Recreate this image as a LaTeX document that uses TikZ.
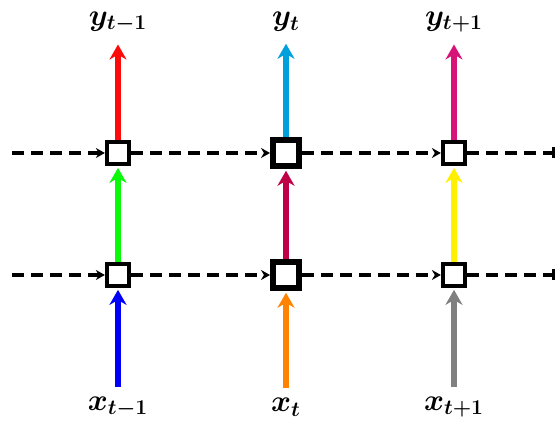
\documentclass[tikz,border=0pt]{standalone}
\usepackage{amsmath}
\usepackage{xcolor}
\usetikzlibrary{arrows.meta,positioning}
\definecolor{topred}{RGB}{255, 10, 10}
\definecolor{topcyan}{RGB}{0, 160, 220}
\definecolor{topmagenta}{RGB}{215, 20, 120}
\definecolor{midgreen}{RGB}{10, 250, 10}
\definecolor{midcrimson}{RGB}{190, 0, 70}
\definecolor{midyellow}{RGB}{255, 240, 0}
\definecolor{lowblue}{RGB}{0, 0, 250}
\definecolor{loworange}{RGB}{255, 130, 0}
\definecolor{lowgray}{RGB}{128, 128, 128}

\begin{document}
\begin{tikzpicture}[
    every node/.style={align=center},
    cell/.style={rectangle, draw=black, fill=white, line width=2.4pt, minimum width=0.44cm, minimum height=0.44cm, inner sep=0pt},
    bigcell/.style={cell, line width=3.4pt, minimum width=0.52cm, minimum height=0.52cm},
    lbl/.style={font=\LARGE\boldmath, inner sep=1pt},
    flow/.style={line width=3.6pt, -{Stealth[length=0.3cm, width=0.34cm]}, shorten >=1pt},
    recur/.style={line width=1.8pt, dash pattern=on 0.24cm off 0.14cm, -{Stealth[length=0.18cm, width=0.2cm]}}
]
\useasboundingbox (0,0) rectangle (11.14,8.44);

% Hidden cells
\node[cell] (l1) at (2.36,2.94) {};
\node[bigcell] (l2) at (5.72,2.94) {};
\node[cell] (l3) at (9.08,2.94) {};
\node[cell] (u1) at (2.36,5.38) {};
\node[bigcell] (u2) at (5.72,5.38) {};
\node[cell] (u3) at (9.08,5.38) {};

% Inputs and outputs
\node[lbl] (x1) at (2.36,0.3) {$x_{t-1}$};
\node[lbl] (x2) at (5.72,0.3) {$x_t$};
\node[lbl] (x3) at (9.08,0.3) {$x_{t+1}$};
\node[lbl] (y1) at (2.36,8.0) {$y_{t-1}$};
\node[lbl] (y2) at (5.72,8.0) {$y_t$};
\node[lbl] (y3) at (9.08,8.0) {$y_{t+1}$};

% Loose ends of the recurrences
\coordinate (inl) at (0.24,2.94);
\coordinate (inu) at (0.24,5.38);
\coordinate (outl) at (11.1,2.94);
\coordinate (outu) at (11.1,5.38);

% Vertical connections
\draw[flow, topred, shorten >=0.2cm] (u1) -- (y1);
\draw[flow, topcyan, shorten >=0.2cm] (u2) -- (y2);
\draw[flow, topmagenta, shorten >=0.2cm] (u3) -- (y3);
\draw[flow, midgreen] (l1) -- (u1);
\draw[flow, midcrimson] (l2) -- (u2);
\draw[flow, midyellow] (l3) -- (u3);
\draw[flow, lowblue, shorten <=0.15cm] (x1) -- (l1);
\draw[flow, loworange, shorten <=0.15cm] (x2) -- (l2);
\draw[flow, lowgray, shorten <=0.15cm] (x3) -- (l3);

% Recurrent connections
\draw[recur] (inu) -- (u1);
\draw[recur] (u1) -- (u2);
\draw[recur] (u2) -- (u3);
\draw[recur, -{Bar[width=0.22cm]}] (u3) -- (outu);
\draw[recur] (inl) -- (l1);
\draw[recur] (l1) -- (l2);
\draw[recur] (l2) -- (l3);
\draw[recur, -{Bar[width=0.22cm]}] (l3) -- (outl);

\end{tikzpicture}
\end{document}
